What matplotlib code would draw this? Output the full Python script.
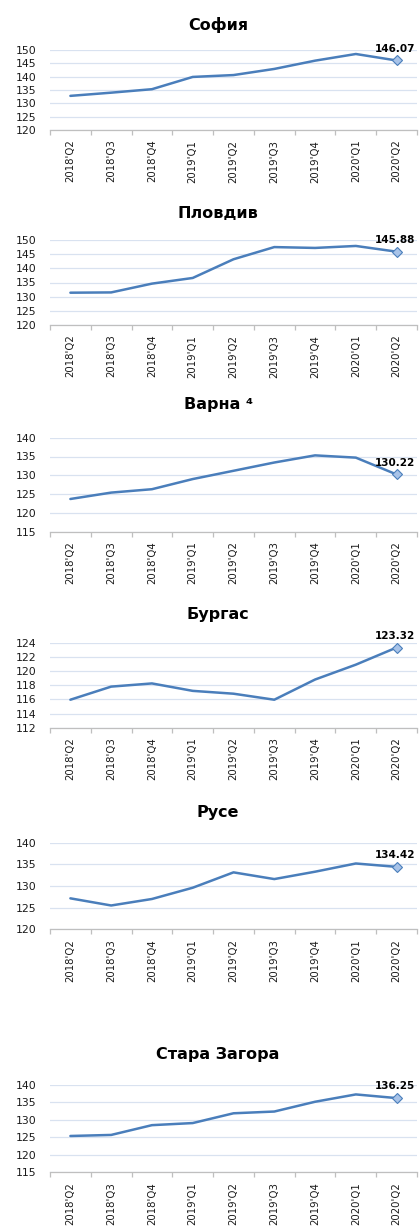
import matplotlib
matplotlib.use("Agg")
import matplotlib.pyplot as plt
from matplotlib.ticker import FixedLocator, MultipleLocator

plt.rcParams['font.family'] = ['DejaVu Sans']

quarters = ["2018'Q2", "2018'Q3", "2018'Q4", "2019'Q1", "2019'Q2",
            "2019'Q3", "2019'Q4", "2020'Q1", "2020'Q2"]

titles = ["София", "Пловдив", "Варна ⁴", "Бургас", "Русе", "Стара Загора"]

sofia = [132.8, 134.0, 135.3, 139.9, 140.6, 142.9, 146.0, 148.5, 146.07]
plovdiv = [131.4, 131.5, 134.6, 136.6, 143.2, 147.5, 147.2, 147.9, 145.88]
varna = [123.7, 125.4, 126.3, 129.0, 131.2, 133.4, 135.3, 134.7, 130.22]
burgas = [115.95, 117.8, 118.25, 117.2, 116.8, 115.95, 118.8, 120.9, 123.32]
ruse = [127.15, 125.5, 127.0, 129.6, 133.15, 131.6, 133.3, 135.2, 134.42]
stara_zagora = [125.4, 125.7, 128.5, 129.1, 131.9, 132.4, 135.2, 137.3, 136.25]

series = [sofia, plovdiv, varna, burgas, ruse, stara_zagora]
y_min = [120, 120, 115, 112, 120, 115]
y_max = [150, 150, 140, 124, 140, 140]
y_step = [5, 5, 5, 2, 5, 5]

# layout in pixels (top, bottom of plot area; title centre y)
W, H = 419, 1227
plot_top = [50, 240, 437.7, 642.7, 842.7, 1085]
plot_bot = [130, 325, 531.7, 727.7, 929.3, 1172.3]
title_y = [25, 213, 405, 615, 813, 1055]
left_px, right_px = 50, 417

line_color = '#4a7ebb'
grid_color = '#d9e2f0'
axis_color = '#bfbfbf'
text_color = '#1a1a1a'

fig = plt.figure(figsize=(W / 100, H / 100), dpi=100)

x = list(range(len(quarters)))
for i, vals in enumerate(series):
    ax = fig.add_axes([left_px / W, 1 - plot_bot[i] / H,
                       (right_px - left_px) / W, (plot_bot[i] - plot_top[i]) / H])
    ax.plot(x, vals, color=line_color, lw=1.8, solid_capstyle='round', zorder=3)
    ax.plot([x[-1]], [vals[-1]], marker='D', ms=5.5, mfc='#a8c3e8',
            mec=line_color, mew=0.8, zorder=4, clip_on=False)
    ax.annotate(f"{vals[-1]:.2f}", (x[-1], vals[-1]), xytext=(-1, 5),
                textcoords='offset points', ha='center', va='bottom',
                fontsize=7.5, fontweight='bold', color='black', annotation_clip=False)
    ax.set_xlim(-0.5, len(quarters) - 0.5)
    ax.set_ylim(y_min[i], y_max[i])
    ax.yaxis.set_major_locator(MultipleLocator(y_step[i]))
    ax.grid(axis='y', color=grid_color, lw=0.9, zorder=0)
    ax.set_axisbelow(True)
    for s in ['top', 'right', 'left']:
        ax.spines[s].set_visible(False)
    ax.spines['bottom'].set_color(axis_color)
    ax.spines['bottom'].set_linewidth(0.9)
    ax.set_xticks(x)
    ax.set_xticklabels(quarters, rotation=90, fontsize=7.3, color=text_color)
    ax.xaxis.set_minor_locator(FixedLocator([k - 0.5 for k in range(len(quarters) + 1)]))
    ax.tick_params(axis='x', which='major', length=0, pad=7)
    ax.tick_params(axis='x', which='minor', length=3.5, color=axis_color, width=0.9)
    ax.tick_params(axis='y', length=0, pad=10, labelsize=7.8, labelcolor=text_color)
    fig.text(218 / W, 1 - title_y[i] / H, titles[i], ha='center', va='center',
             fontsize=11.5, fontweight='bold', color='black')

fig.savefig('out.png', dpi=100)
